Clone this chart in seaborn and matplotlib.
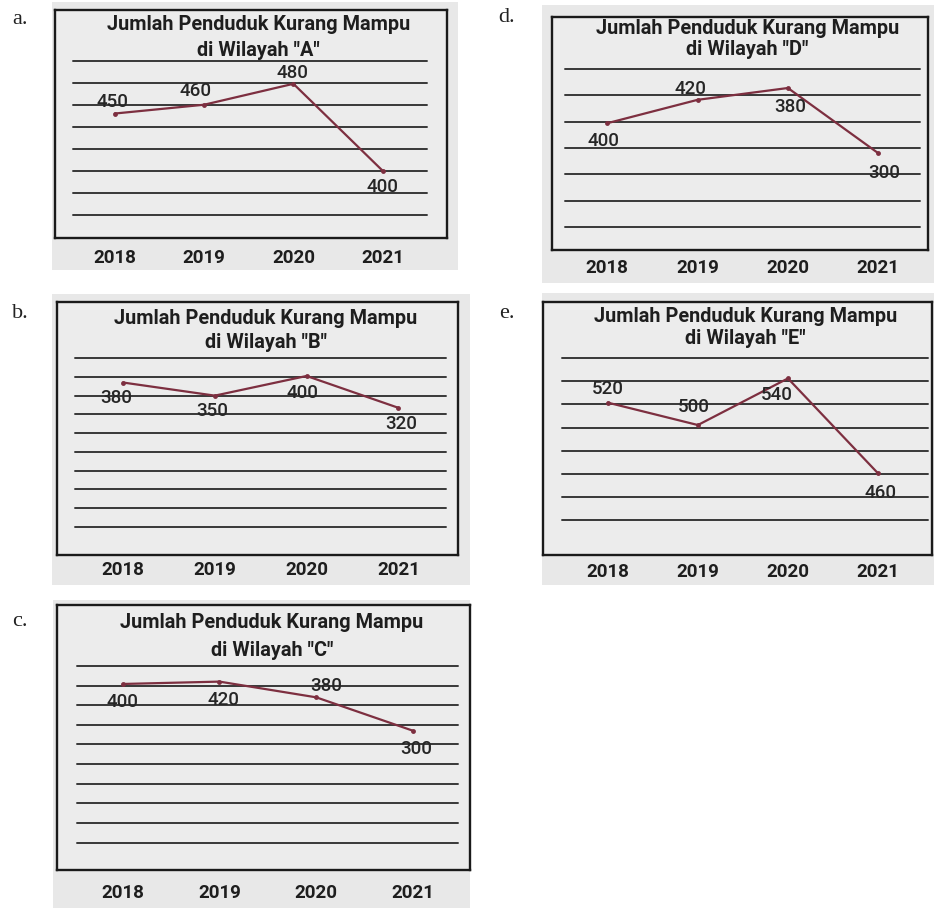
import seaborn as sns
import matplotlib.pyplot as plt
from matplotlib.patches import Rectangle

sns.set_theme(style="white")
plt.rcParams['font.family'] = ['Roboto', 'DejaVu Sans']

years = ["2018", "2019", "2020", "2021"]
title_line1 = "Jumlah Penduduk Kurang Mampu"

# value labels written on each chart
labels_a = ["450", "460", "480", "400"]
labels_b = ["380", "350", "400", "320"]
labels_c = ["400", "420", "380", "300"]
labels_d = ["400", "420", "380", "300"]
labels_e = ["520", "500", "540", "460"]

# where the line is actually drawn, in gridline units (1 = lowest gridline)
pos_a = [5.6, 6.0, 6.95, 3.0]
pos_b = [8.7, 8.0, 9.05, 7.35]
pos_c = [9.08, 9.2, 8.4, 6.7]
pos_d = [4.94, 5.83, 6.28, 3.8]
pos_e = [6.08, 5.11, 7.13, 3.02]

W, H = 934, 908
fig = plt.figure(figsize=(W / 100, H / 100), dpi=100)
fig.patch.set_facecolor("white")

LINE = "#7d2f40"
GRID = "#383838"
BG = "#e8e8e8"


def px_rect(x0, y0, x1, y1):
    return [x0 / W, 1 - y1 / H, (x1 - x0) / W, (y1 - y0) / H]


def panel(letter, region, labels, pos, letter_xy, bg, box, xlim, ylim, ngrid,
          gx, title_y, tick_y, offsets):
    # gray scanned background
    bx0, by0, bx1, by1 = bg
    fig.patches.append(Rectangle((bx0 / W, 1 - by1 / H), (bx1 - bx0) / W,
                                 (by1 - by0) / H, transform=fig.transFigure,
                                 facecolor=BG, edgecolor="none", zorder=-10))
    fig.text(letter_xy[0] / W, 1 - letter_xy[1] / H, letter + ".",
             family="Liberation Serif", fontsize=16, ha="center", va="center",
             color="#222")

    ax = fig.add_axes(px_rect(*box))
    ax.set_facecolor("#ececec")
    for s in ax.spines.values():
        s.set_color("#1a1a1a")
        s.set_linewidth(1.7)
    for k in range(1, ngrid + 1):
        ax.axhline(k, xmin=gx[0], xmax=gx[1], color=GRID, lw=1.4, zorder=1)

    sns.lineplot(x=list(range(len(years))), y=pos, ax=ax, color=LINE, lw=1.6,
                 marker="o", markersize=3.5, markeredgewidth=0, zorder=3)
    for i, (lab, dx, dy) in enumerate(zip(labels, *zip(*offsets))):
        ax.annotate(lab, (i, pos[i]), xytext=(dx, dy), textcoords="offset points",
                    ha="center", va="center", fontsize=13.5, fontweight="medium",
                    color="#262626", zorder=4)

    ax.set_xlim(*xlim)
    ax.set_ylim(*ylim)
    ax.set_xticks([])
    ax.set_yticks([])
    ax.set_xlabel("")
    ax.set_ylabel("")

    x0, y0, x1, y1 = box
    ax.text(0.52, 1 - (title_y[0] - y0) / (y1 - y0), title_line1, transform=ax.transAxes,
            ha="center", va="center", fontsize=14.3, fontweight="bold", color="#1e1e1e")
    ax.text(0.52, 1 - (title_y[1] - y0) / (y1 - y0), 'di Wilayah "%s"' % region,
            transform=ax.transAxes, ha="center", va="center", fontsize=14.3,
            fontweight="bold", color="#1e1e1e")
    for i, yr in enumerate(years):
        xf = (i - xlim[0]) / (xlim[1] - xlim[0])
        ax.text(xf, -(tick_y - y1) / (y1 - y0), yr, transform=ax.transAxes,
                ha="center", va="center", fontsize=13.5, fontweight="bold",
                color="#1e1e1e")
    return ax


panel("a", "A", labels_a, pos_a, (20, 20), (52, 2, 458, 270),
      (55, 10, 447, 238), (-0.67, 3.72), (-0.05, 10.3), 8, (0.046, 0.95),
      (25, 50), 258, [(-2, 8), (-6, 10), (-1, 8), (0, -12)])
panel("d", "D", labels_d, pos_d, (507, 18), (542, 5, 934, 283),
      (552, 17, 928, 250), (-0.61, 3.55), (0.12, 8.98), 7, (0.035, 0.98),
      (28, 49), 268, [(-3, -13), (-5, 8), (2, -14), (4, -14)])
panel("b", "B", labels_b, pos_b, (20, 313), (52, 294, 470, 585),
      (57, 302, 458, 555), (-0.72, 3.65), (-0.51, 13.0), 10, (0.045, 0.97),
      (318, 343), 570, [(-5, -11), (-2, -11), (-3, -12), (2, -12)])
panel("c", "C", labels_c, pos_c, (20, 621), (53, 600, 470, 908),
      (57, 605, 470, 870), (-0.68, 3.59), (-0.39, 13.1), 10, (0.048, 0.97),
      (622, 650), 893, [(0, -13), (3, -13), (7, 8), (2, -13)])
panel("e", "E", labels_e, pos_e, (507, 313), (542, 293, 934, 585),
      (543, 302, 932, 555), (-0.72, 3.6), (-0.52, 10.44), 8, (0.05, 0.99),
      (317, 338), 572, [(0, 10), (-3, 13), (-8, -12), (2, -14)])

fig.savefig("out.png", dpi=100)
